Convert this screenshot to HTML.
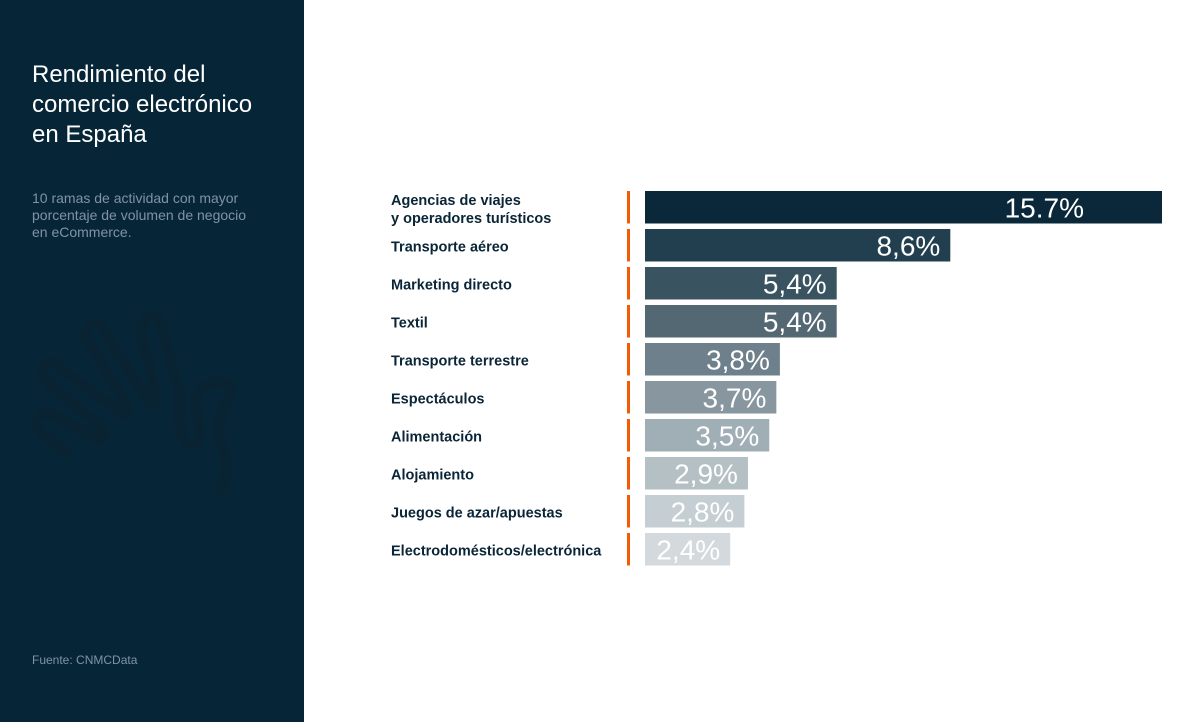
<!DOCTYPE html>
<html><head><meta charset="utf-8"><style>
body{margin:0;width:1200px;height:722px;position:relative;background:#fff;font-family:"Liberation Sans",sans-serif;overflow:hidden}
#side{position:absolute;left:0;top:0;width:304px;height:722px;background:#062638}
#title{position:absolute;left:32px;top:60px;color:#fff;font-size:24px;line-height:30px}
#sub{position:absolute;left:32px;top:190px;color:#7f93a3;font-size:14px;line-height:17px}
#src{position:absolute;left:32px;top:653px;color:#7f93a3;font-size:12px}
</style></head><body>
<div id="side">
<svg width="304" height="722" style="position:absolute;left:0;top:0">
<path d="M66,452 L38,430 Q32,415 48,413 L100,440 Q108,436 102,428 L45,380 Q38,365 52,362 L125,416 Q130,412 126,404 L85,335 Q88,320 100,325 L150,403 Q157,404 156,396 L140,330 Q145,312 160,320 L180,395 Q175,440 192,445 Q205,440 198,420 Q190,395 205,385 Q230,378 232,390 Q215,420 220,440 Q232,470 220,490" fill="none" stroke="#0a2333" stroke-width="11" stroke-linecap="round" stroke-linejoin="round"/>
</svg>
<div id="title">Rendimiento del<br>comercio electrónico<br>en España</div>
<div id="sub">10 ramas de actividad con mayor<br>porcentaje de volumen de negocio<br>en eCommerce.</div>
<div id="src">Fuente: CNMCData</div>
</div>
<svg id="chart" width="1200" height="722" style="position:absolute;left:0;top:0"></svg>
<script>
const categories=["Agencias de viajes|y operadores turísticos","Transporte aéreo","Marketing directo","Textil","Transporte terrestre","Espectáculos","Alimentación","Alojamiento","Juegos de azar/apuestas","Electrodomésticos/electrónica"];
const values=[15.7,8.6,5.4,5.4,3.8,3.7,3.5,2.9,2.8,2.4];
const valueLabels=["15.7%","8,6%","5,4%","5,4%","3,8%","3,7%","3,5%","2,9%","2,8%","2,4%"];
const colors=["#0a2839","#223f4f","#3a5361","#546874","#6e808b","#87969f","#a0aeb5","#b5c0c5","#c5ced2","#d3d9dc"];
const NS="http://www.w3.org/2000/svg";
const svg=document.getElementById('chart');
const x0=645,maxW=517,pxPer=35.5;
function xs(v){return Math.min(v*pxPer,maxW);}
function ys(i){return 191+i*38;}
const bh=32.5;
values.forEach((v,i)=>{
 const y=ys(i);
 const t=document.createElementNS(NS,'rect');
 t.setAttribute('x',627);t.setAttribute('y',y);t.setAttribute('width',3);t.setAttribute('height',bh);t.setAttribute('fill','#f25c05');
 
 
 svg.appendChild(t);
 const r=document.createElementNS(NS,'rect');
 r.setAttribute('x',x0);r.setAttribute('y',y);r.setAttribute('width',xs(v));r.setAttribute('height',bh);r.setAttribute('fill',colors[i]);
 
 
 svg.appendChild(r);
 const vl=document.createElementNS(NS,'text');
 vl.setAttribute('x',x0+xs(v)-10-(i==0?68:0));vl.setAttribute('y',y+bh/2+10);vl.setAttribute('text-anchor','end');
 vl.setAttribute('font-size','28');vl.setAttribute('fill','#fff');vl.textContent=valueLabels[i];
 
 
 svg.appendChild(vl);
 const lines=categories[i].split('|');
 const lt=document.createElementNS(NS,'text');
 lt.setAttribute('x',391);lt.setAttribute('font-size','14.5');lt.setAttribute('font-weight','bold');lt.setAttribute('fill','#0a2537');
 
 
 lines.forEach((s,j)=>{const ts=document.createElementNS(NS,'tspan');ts.setAttribute('x',391);
  ts.setAttribute('y',lines.length>1?y+14+j*18:y+bh/2+6);ts.textContent=s;lt.appendChild(ts);});
 svg.appendChild(lt);
});
</script>
</body></html>
